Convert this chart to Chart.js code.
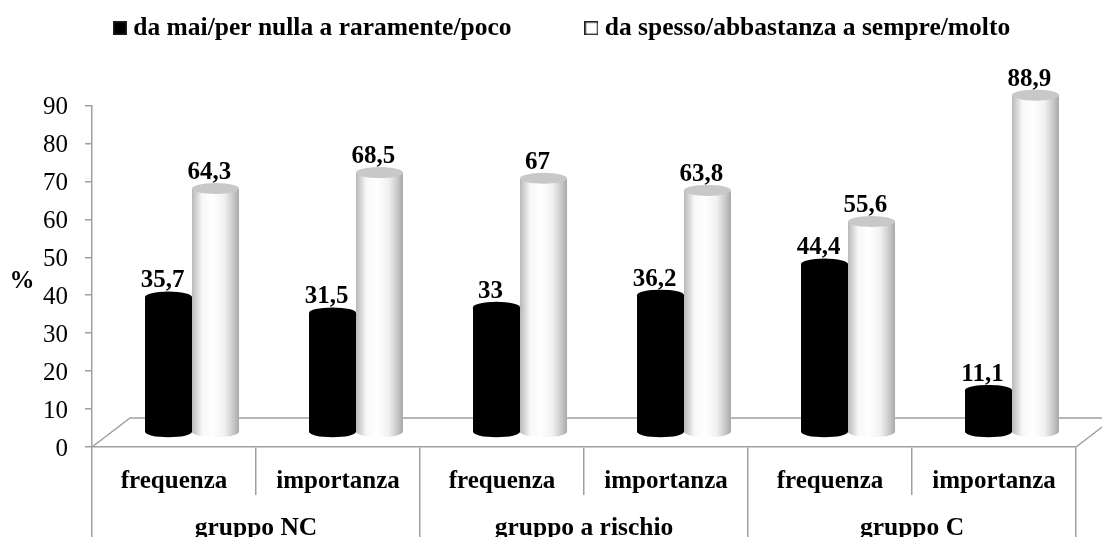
<!DOCTYPE html>
<html>
<head>
<meta charset="utf-8">
<style>
  html, body { margin: 0; padding: 0; background: #fff; overflow: hidden; }
  #wrap { width: 1102px; height: 537px; }
</style>
<script src="https://cdn.jsdelivr.net/npm/chart.js@4"></script>
</head>
<body>
<div id="wrap"><canvas id="chart" role="img"></canvas></div>
<script>
const subGroups = ["frequenza", "importanza", "frequenza", "importanza", "frequenza", "importanza"];
const groups = ["gruppo NC", "gruppo a rischio", "gruppo C"];
const lowValues = [35.7, 31.5, 33, 36.2, 44.4, 11.1];
const highValues = [64.3, 68.5, 67, 63.8, 55.6, 88.9];
const lowLabel = "da mai/per nulla a raramente/poco";
const highLabel = "da spesso/abbastanza a sempre/molto";

const SERIF = "'Liberation Serif', serif";
const AXIS = "#a0a0a0";
const FLOOR_DX = 38, FLOOR_DY = 29;
const BAR_DX = 18, BAR_DY = 14.5, CAP_RY = 5.5;

function legendSwatch(fill) {
    const c = document.createElement("canvas");
    c.width = 14;
    c.height = 14;
    const g = c.getContext("2d");
    g.fillStyle = fill;
    g.fillRect(0, 0, 14, 14);
    g.strokeStyle = "#222";
    g.lineWidth = 1.5;
    g.strokeRect(0.75, 0.75, 12.5, 12.5);
    return c;
}

function cylinder(ctx, bar, isLow) {
    const rx = bar.width / 2;
    const left = bar.x - rx, right = bar.x + rx;
    let fill = "#000";
    if (!isLow) {
        fill = ctx.createLinearGradient(left, 0, right, 0);
        fill.addColorStop(0, "#b8b8b8");
        fill.addColorStop(0.22, "#f8f8f8");
        fill.addColorStop(0.45, "#ffffff");
        fill.addColorStop(0.7, "#f0f0f0");
        fill.addColorStop(0.9, "#c4c4c4");
        fill.addColorStop(1, "#a8a8a8");
    }
    ctx.fillStyle = fill;
    ctx.beginPath();
    ctx.moveTo(left, bar.y);
    ctx.lineTo(left, bar.base);
    ctx.ellipse(bar.x, bar.base, rx, CAP_RY, 0, Math.PI, 0, true);
    ctx.lineTo(right, bar.y);
    ctx.closePath();
    ctx.fill();
    ctx.fillStyle = isLow ? "#000" : "#c8c8c8";
    ctx.beginPath();
    ctx.ellipse(bar.x, bar.y, rx, CAP_RY, 0, 0, Math.PI * 2);
    ctx.fill();
}

const chart3d = {
    id: "chart3d",
    // legend box: keep the row height fixed and put it where the original sits
    afterLayout(chart) {
        chart.legend.left = 40;
        chart.legend.right = 1400;
        chart.legend.top = -64;
    },
    beforeDatasetsDraw(chart) {
        const { ctx, scales: { x, y } } = chart;
        const zero = y.getPixelForValue(0);
        ctx.save();
        ctx.strokeStyle = AXIS;
        ctx.lineWidth = 1.5;
        ctx.beginPath();
        ctx.moveTo(x.left, zero);
        ctx.lineTo(x.left + FLOOR_DX, zero - FLOOR_DY);
        ctx.lineTo(x.right + FLOOR_DX, zero - FLOOR_DY);
        ctx.lineTo(x.right, zero);
        ctx.stroke();
        ctx.restore();
    },
    beforeDatasetDraw(chart, args) {
        const { ctx } = chart;
        ctx.save();
        ctx.translate(BAR_DX, -BAR_DY);
        args.meta.data.forEach((bar) => cylinder(ctx, bar, args.index === 0));
        ctx.restore();
        return false;
    },
    afterDatasetsDraw(chart) {
        const { ctx, scales: { y } } = chart;
        ctx.save();
        ctx.fillStyle = "#000";
        ctx.font = "bold 25px " + SERIF;
        ctx.textAlign = "center";
        ctx.textBaseline = "middle";
        chart.data.datasets.forEach((ds, d) => {
            chart.getDatasetMeta(d).data.forEach((bar, i) => {
                const text = String(ds.data[i]).replace(".", ",");
                ctx.fillText(text, bar.x + BAR_DX - 6, bar.y - BAR_DY - 16);
            });
        });
        ctx.fillText("%", 22, (y.top + y.bottom) / 2 + 5);
        ctx.restore();
    },
};

const chart = new Chart(document.getElementById("chart"), {
    type: "bar",
    data: {
        labels: subGroups,
        datasets: [
            { label: lowLabel, data: lowValues, backgroundColor: "#000", pointStyle: legendSwatch("#000") },
            { label: highLabel, data: highValues, backgroundColor: "#fff", pointStyle: legendSwatch("#fff") },
        ],
    },
    options: {
        responsive: true,
        maintainAspectRatio: false,
        animation: false,
        layout: { padding: { right: 26 } },
        datasets: { bar: { categoryPercentage: 0.573, barPercentage: 1 } },
        plugins: {
            legend: {
                position: "top",
                align: "start",
                labels: {
                    color: "#000",
                    usePointStyle: true,
                    pointStyleWidth: 1,
                    padding: 79.5,
                    font: { family: SERIF, weight: "bold", size: 25.5 },
                },
            },
            tooltip: { enabled: false },
        },
        scales: {
            x: {
                type: "category",
                position: "bottom",
                afterFit(scale) { scale.height = 48; },
                border: { color: AXIS, width: 1.5 },
                grid: { offset: true, drawOnChartArea: false, color: AXIS, lineWidth: 1.5, tickLength: 48 },
                ticks: { color: "#000", padding: -28, maxRotation: 0, autoSkip: false, font: { family: SERIF, weight: "bold", size: 25 } },
            },
            x2: {
                type: "category",
                position: "bottom",
                labels: groups,
                afterFit(scale) { scale.height = 42; },
                border: { display: false },
                grid: { offset: true, drawOnChartArea: false, color: AXIS, lineWidth: 1.5, tickLength: 42 },
                ticks: { color: "#000", padding: -24, maxRotation: 0, autoSkip: false, font: { family: SERIF, weight: "bold", size: 25.5 } },
            },
            y: {
                min: 0,
                max: 90,
                afterFit(scale) { scale.width = 92; },
                border: { color: AXIS, width: 1.5 },
                grid: { drawOnChartArea: false, color: AXIS, lineWidth: 1.5, tickLength: 7 },
                ticks: { stepSize: 10, color: "#000", padding: 17, labelOffset: 2, font: { family: SERIF, size: 25 } },
            },
        },
    },
    plugins: [{
        id: "legendBox",
        beforeInit(chart) {
            const fit = chart.legend.fit;
            chart.legend.fit = function () {
                fit.call(this);
                this.height = 105.5;
            };
        },
    }, chart3d],
});
</script>
</body>
</html>
